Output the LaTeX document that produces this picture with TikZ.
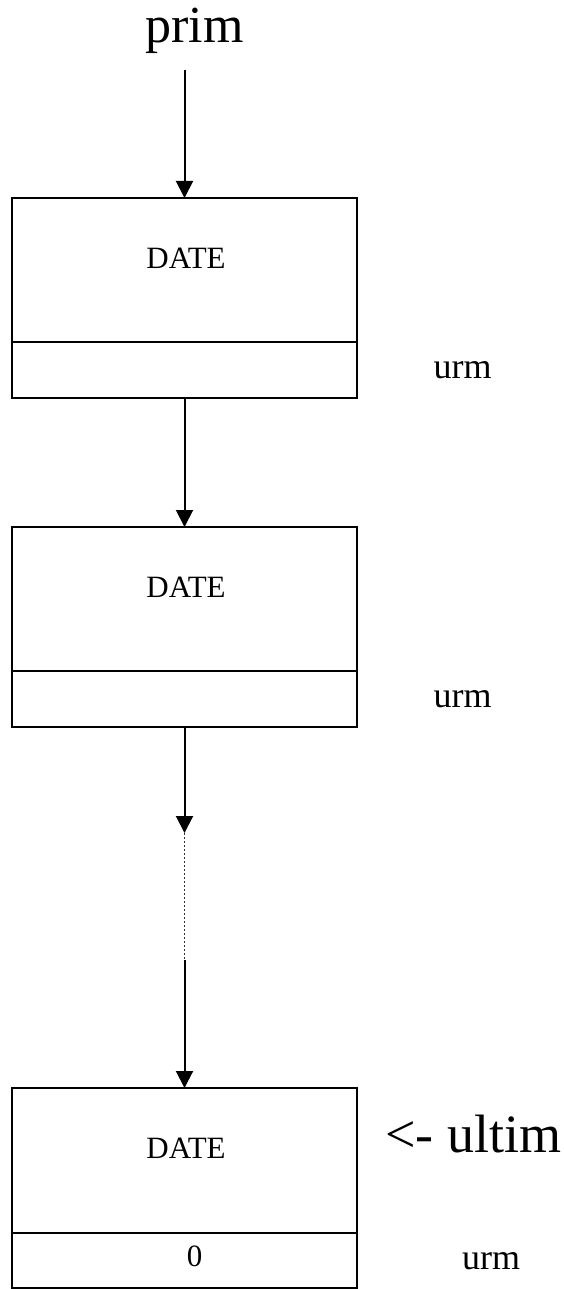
\documentclass[tikz,border=0pt]{standalone}
\usepackage{fontspec}
\setmainfont{Liberation Serif}
\usetikzlibrary{arrows.meta}

\tikzset{
  cell/.style={draw, line width=2pt, inner sep=0pt, outer sep=0pt,
               minimum width=345pt},
  datapart/.style={cell, minimum height=144pt},
  linkpart/.style={cell, minimum height=56pt},
  link/.style={line width=2pt, -{Triangle[width=17pt,length=17pt]}},
  gapline/.style={line width=1.8pt, draw=black!80, dash pattern=on 2pt off 2pt},
  boxtext/.style={anchor=base, inner sep=0pt, font=\fontsize{31}{36}\selectfont},
  sidetext/.style={anchor=base, inner sep=0pt, font=\fontsize{36}{42}\selectfont},
  bigtext/.style={anchor=base, inner sep=0pt, font=\fontsize{52}{60}\selectfont}
}

\begin{document}
\begin{tikzpicture}[x=1pt,y=-1pt]
  \useasboundingbox (0,0) rectangle (563,1289);

  % list head
  \node[bigtext] (prim) at (194.5,43) {prim};
  \coordinate (head) at (184.5,70);

  % first element
  \node[datapart] (d1) at (184.5,270) {};
  \node[linkpart] (s1) at (184.5,370) {};
  \node[boxtext] (t1) at (186,268) {DATE};
  \node[sidetext] (u1) at (462.5,378) {urm};

  % second element
  \node[datapart] (d2) at (184.5,599) {};
  \node[linkpart] (s2) at (184.5,699) {};
  \node[boxtext] (t2) at (186,597) {DATE};
  \node[sidetext] (u2) at (462.5,707) {urm};

  % last element
  \node[datapart, minimum height=145pt] (d3) at (184.5,1160.5) {};
  \node[linkpart, minimum height=55pt] (s3) at (184.5,1260.5) {};
  \node[boxtext] (t3) at (186,1158) {DATE};
  \node[boxtext] (z3) at (194.5,1266) {0};
  \node[sidetext] (u3) at (491,1269) {urm};
  \node[bigtext, anchor=base west, font=\fontsize{54}{62}\selectfont] (ultim) at (385,1152) {<- ultim};

  % links between elements
  \coordinate (gapA) at (184.5,833);
  \coordinate (gapB) at (184.5,960);
  \draw[link] (head) -- (d1.north);
  \draw[link] (s1.south) -- (d2.north);
  \draw[link] (s2.south) -- (gapA);
  \draw[gapline] (gapA) -- (gapB);
  \draw[link] (gapB) -- (d3.north);
\end{tikzpicture}
\end{document}
